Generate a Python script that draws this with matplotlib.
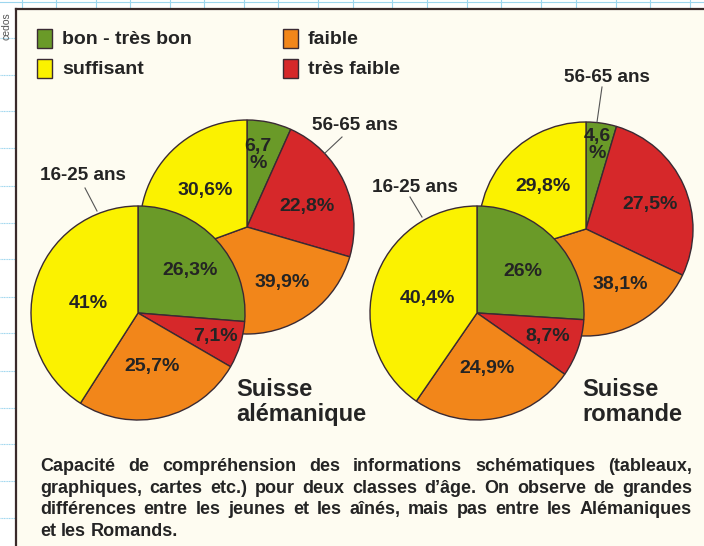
import matplotlib
matplotlib.use('Agg')
import matplotlib.pyplot as plt
from matplotlib.patches import Rectangle

# ---------------- data ----------------
# wedge order, clockwise from 12 o'clock
categories = ['bon - très bon', 'très faible', 'faible', 'suffisant']
legend_order = ['bon - très bon', 'suffisant', 'faible', 'très faible']
alem_16_25 = [26.3, 7.1, 25.7, 41.0]
alem_56_65 = [6.7, 22.8, 39.9, 30.6]
rom_16_25 = [26.0, 8.7, 24.9, 40.4]
rom_56_65 = [4.6, 27.5, 38.1, 29.8]
age_labels = ['16-25 ans', '56-65 ans']
region_labels = ['Suisse\nalémanique', 'Suisse\nromande']
caption_lines = [
    "Capacité de compréhension des informations schématiques (tableaux,",
    "graphiques, cartes etc.) pour deux classes d’âge. On observe de grandes",
    "différences entre les jeunes et les aînés, mais pas entre les Alémaniques",
    "et les Romands.",
]

# ---------------- style ----------------
colors = {'bon - très bon': '#6a9a28', 'suffisant': '#fbf200',
          'faible': '#f2861a', 'très faible': '#d6282a'}
EDGE = '#3a2a33'
TXT = '#242424'
CREAM = '#fefcf1'
FONT = ['Liberation Sans', 'DejaVu Sans']

W, H = 704, 546
def Y(y):
    return H - y

fig = plt.figure(figsize=(W / 100, H / 100), dpi=100, facecolor='white')
ax = fig.add_axes([0, 0, 1, 1])

R = 107
pies = [
    (alem_56_65, (247, 227), [(11, 72), (60, 21), (35, -55), (-42, 37)]),
    (alem_16_25, (138, 313), [(52, 43), (77, -23), (14, -54), (-50, 10)]),
    (rom_56_65, (586, 229), [(11, 84), (64, 24), (34, -56), (-43, 43)]),
    (rom_16_25, (477, 313), [(46, 42), (71, -24), (10, -56), (-50, 14)]),
]

# paper background / frame
ax.add_patch(Rectangle((16, 0), W - 16, Y(9), facecolor=CREAM, edgecolor='none', zorder=0))
ax.plot([16, 16], [0, Y(9)], color='#3a2a2a', lw=1.6, zorder=0.5)
ax.plot([16, W], [Y(9), Y(9)], color='#3a2a2a', lw=1.6, zorder=0.5)
# graph paper outside the frame
grid_c = '#9dd6ee'
ax.plot([0, W], [Y(2), Y(2)], color=grid_c, lw=0.8, zorder=0.2)
for gx in [22, 56, 96, 130, 170, 204, 244, 278, 318, 353, 392, 427, 467, 501,
           541, 576, 616, 650, 690]:
    ax.plot([gx, gx], [Y(0), Y(8)], color=grid_c, lw=0.8, zorder=0.2)
for gy in [38, 75, 111, 148, 186, 223, 259, 297, 333, 371, 408, 444, 481, 518]:
    ax.plot([0, 15], [Y(gy), Y(gy)], color=grid_c, lw=0.8, ls=(0, (1, 0.5)), zorder=0.2)
ax.text(6.5, Y(26), 'cedos', rotation=90, ha='center', va='center', fontsize=7.5,
        color='#555555', family=FONT)

# pies
def fmt(v):
    s = f"{v:g}".replace('.', ',')
    return s + ('\n%' if v < 7.0 else '%')

for vals, (cx, cy), offs in pies:
    wedges, _ = ax.pie(vals, colors=[colors[c] for c in categories], startangle=90,
                       counterclock=False, radius=R, center=(cx, Y(cy)),
                       wedgeprops=dict(edgecolor=EDGE, linewidth=1.0), frame=True)
    for v, (dx, dy) in zip(vals, offs):
        ax.text(cx + dx, Y(cy) + dy, fmt(v), ha='center', va='center', fontsize=14,
                fontweight='bold', color=TXT, family=FONT, linespacing=1.0, zorder=5)

# age labels with leader lines
age_pos = [
    ((83, 175), ((85, 188), (97, 211))),
    ((355, 125), ((342, 137), (325, 153))),
    ((415, 187), ((410, 197), (422, 217))),
    ((607, 77), ((602, 87), (597, 122))),
]
for i, ((tx, ty), (p0, p1)) in enumerate(age_pos):
    ax.text(tx, Y(ty), age_labels[i % 2], ha='center', va='center', fontsize=13.6,
            fontweight='bold', color=TXT, family=FONT, zorder=5)
    ax.plot([p0[0], p1[0]], [Y(p0[1]), Y(p1[1])], color='#555555', lw=0.8, zorder=5)

# region names
for (tx, ty), lab in zip([(236, 402), (582, 402)], region_labels):
    ax.text(tx, Y(ty), lab, ha='left', va='center', fontsize=17, fontweight='bold',
            color=TXT, family=FONT, linespacing=1.1, zorder=5)

# legend
leg_pos = [(37, 29), (37, 59), (283, 29), (283, 59)]
for (lx, ly), name in zip(leg_pos, legend_order):
    ax.add_patch(Rectangle((lx, Y(ly + 19)), 15, 19, facecolor=colors[name],
                           edgecolor=EDGE, lw=1.0, zorder=5))
    ax.text(lx + 25, Y(ly + 11), name, ha='left', va='center', fontsize=14,
            fontweight='bold', color=TXT, family=FONT, zorder=5)

ax.set_xlim(0, W)
ax.set_ylim(0, H)
ax.set_aspect('auto')
ax.axis('off')

# justified caption (words on a common baseline)
renderer = fig.canvas.get_renderer()
left, right = 40, 692
for i, (line, ly) in enumerate(zip(caption_lines, [471, 493, 514, 536])):
    words = line.split(' ')
    texts = [ax.text(0, Y(ly), w, ha='left', va='baseline', fontsize=13,
                     fontweight='bold', color=TXT, family=FONT) for w in words]
    widths = [t.get_window_extent(renderer).width for t in texts]
    if i < len(caption_lines) - 1 and len(words) > 1:
        gap = (right - left - sum(widths)) / (len(words) - 1)
    else:
        gap = renderer.points_to_pixels(13) * 0.278
    x = left
    for t, w in zip(texts, widths):
        t.set_x(x)
        x += w + gap

fig.savefig('out.png', dpi=100, facecolor='white')
